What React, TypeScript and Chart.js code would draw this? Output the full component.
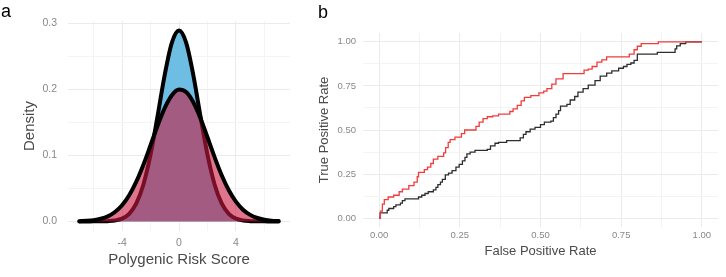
import React, { useEffect, useRef } from "react";
import { Chart, registerables } from "chart.js";

Chart.register(...registerables);

const FONT = '"Liberation Sans", Arial, Helvetica, sans-serif';

// ---------- Panel a: density of polygenic risk score ----------
const prsX = [
  -7, -6.5, -6, -5.5, -5, -4.5, -4, -3.5, -3, -2.5, -2, -1.5, -1, -0.5, 0,
  0.5, 1, 1.5, 2, 2.5, 3, 3.5, 4, 4.5, 5, 5.5, 6, 6.5, 7,
];
const densityNarrow = [
  0, 0, 0.0001, 0.0001, 0.0004, 0.0014, 0.0043, 0.0116, 0.0272, 0.056, 0.1011,
  0.1601, 0.2223, 0.2707, 0.289, 0.2707, 0.2223, 0.1601, 0.1011, 0.056, 0.0272,
  0.0116, 0.0043, 0.0014, 0.0004, 0.0001, 0.0001, 0, 0,
];
const densityWide = [
  0.0004, 0.0009, 0.0019, 0.004, 0.0077, 0.0142, 0.0245, 0.0396, 0.0602, 0.0859,
  0.1153, 0.1452, 0.1719, 0.1912, 0.1998, 0.196, 0.1807, 0.1565, 0.1274, 0.0974,
  0.0699, 0.0471, 0.0299, 0.0178, 0.0099, 0.0052, 0.0026, 0.0012, 0.0005,
];
const prsTicks = [-6, -4, -2, 0, 2, 4, 6];
const prsTickLabels = ["", "-4", "", "0", "", "4", ""];
const densityTicks = [0, 0.05, 0.1, 0.15, 0.2, 0.25, 0.3];
const densityTickLabels = ["0.0", "", "0.1", "", "0.2", "", "0.3"];

// ---------- Panel b: ROC curves ----------
const rocTicks = [0, 0.125, 0.25, 0.375, 0.5, 0.625, 0.75, 0.875, 1];
const rocTickLabels = ["0.00", "", "0.25", "", "0.50", "", "0.75", "", "1.00"];

const redFpr = [
  0, 0.004, 0.01, 0.016, 0.028, 0.045, 0.062, 0.072, 0.092, 0.108,
  0.118, 0.122, 0.14, 0.15, 0.16, 0.168, 0.182, 0.2, 0.206, 0.214,
  0.22, 0.235, 0.255, 0.265, 0.3, 0.31, 0.322, 0.335, 0.352, 0.37,
  0.405, 0.415, 0.428, 0.44, 0.45, 0.47, 0.495, 0.51, 0.52, 0.535,
  0.548, 0.57, 0.635, 0.648, 0.66, 0.675, 0.69, 0.705, 0.775, 0.79,
  0.8, 0.812, 0.865, 1.0,
];
const redTpr = [
  0, 0.04, 0.08, 0.105, 0.12, 0.13, 0.15, 0.165, 0.185, 0.205,
  0.235, 0.26, 0.275, 0.29, 0.31, 0.335, 0.35, 0.37, 0.4, 0.43,
  0.445, 0.46, 0.48, 0.5, 0.52, 0.545, 0.565, 0.575, 0.58, 0.59,
  0.605, 0.62, 0.64, 0.665, 0.685, 0.695, 0.71, 0.72, 0.735, 0.76,
  0.79, 0.82, 0.84, 0.845, 0.86, 0.885, 0.898, 0.915, 0.93, 0.955,
  0.975, 0.99, 1.0, 1.0,
];
const blackFpr = [
  0, 0.003, 0.025, 0.03, 0.045, 0.052, 0.066, 0.072, 0.08, 0.122,
  0.132, 0.142, 0.152, 0.168, 0.176, 0.182, 0.19, 0.196, 0.205, 0.215,
  0.226, 0.238, 0.248, 0.258, 0.266, 0.272, 0.282, 0.297, 0.335, 0.345,
  0.359, 0.37, 0.395, 0.437, 0.447, 0.455, 0.468, 0.483, 0.5, 0.512,
  0.532, 0.54, 0.548, 0.556, 0.562, 0.582, 0.592, 0.606, 0.616, 0.632,
  0.648, 0.669, 0.685, 0.705, 0.721, 0.742, 0.757, 0.768, 0.78, 0.79,
  0.8, 0.862, 0.917, 0.922, 0.933, 0.95, 1.0,
];
const blackTpr = [
  0, 0.03, 0.045, 0.055, 0.065, 0.075, 0.085, 0.1, 0.11, 0.12,
  0.13, 0.14, 0.15, 0.16, 0.175, 0.19, 0.205, 0.22, 0.245, 0.255,
  0.27, 0.29, 0.305, 0.325, 0.345, 0.365, 0.375, 0.385, 0.39, 0.41,
  0.425, 0.43, 0.44, 0.455, 0.475, 0.49, 0.505, 0.515, 0.53, 0.545,
  0.55, 0.57, 0.59, 0.61, 0.635, 0.645, 0.67, 0.69, 0.715, 0.735,
  0.755, 0.78, 0.805, 0.822, 0.835, 0.85, 0.86, 0.872, 0.88, 0.895,
  0.93, 0.94, 0.96, 0.977, 0.99, 1.0, 1.0,
];

const TICK_COLOR = "#888888";
const TITLE_COLOR = "#4a4a4a";
const GRID_MAJOR = "#ebebeb";
const GRID_MINOR = "#f4f4f4";

function toPoints(xs: number[], ys: number[]) {
  return xs.map((x, i) => ({ x, y: ys[i] }));
}

function gridColor(labels: string[]) {
  return (ctx: any) => (labels[ctx.index] ? GRID_MAJOR : GRID_MINOR);
}

function DensityPanel() {
  const ref = useRef<HTMLCanvasElement | null>(null);
  useEffect(() => {
    if (!ref.current) return;
    const chart = new Chart(ref.current, {
      type: "line",
      data: {
        datasets: [
          {
            label: "narrow",
            data: toPoints(prsX, densityNarrow),
            backgroundColor: "rgb(110,190,228)",
            borderColor: "#000000",
            borderWidth: 4,
            fill: "origin",
            pointRadius: 0,
            cubicInterpolationMode: "monotone",
            borderJoinStyle: "round",
            borderCapStyle: "round",
            order: 2,
          },
          {
            label: "wide",
            data: toPoints(prsX, densityWide),
            backgroundColor: "rgba(200,25,65,0.6)",
            borderColor: "#000000",
            borderWidth: 4,
            fill: "origin",
            pointRadius: 0,
            cubicInterpolationMode: "monotone",
            borderJoinStyle: "round",
            borderCapStyle: "round",
            order: 1,
          },
        ],
      },
      options: {
        responsive: false,
        devicePixelRatio: 1,
        animation: false,
        layout: { padding: { left: 0, right: 10, top: 21, bottom: 0 } },
        plugins: { legend: { display: false }, tooltip: { enabled: false } },
        scales: {
          x: {
            type: "linear",
            min: -7.8,
            max: 7.8,
            afterBuildTicks: (axis: any) => {
              axis.ticks = prsTicks.map((v) => ({ value: v }));
            },
            afterFit: (axis: any) => {
              axis.height = 46;
            },
            ticks: {
              autoSkip: false,
              maxRotation: 0,
              minRotation: 0,
              padding: 6,
              color: TICK_COLOR,
              font: { family: FONT, size: 10.5 },
              callback: (_v: any, i: number) => prsTickLabels[i],
            },
            grid: { color: gridColor(prsTickLabels), drawTicks: false, lineWidth: 1 },
            border: { display: false },
            title: {
              display: true,
              text: "Polygenic Risk Score",
              color: TITLE_COLOR,
              font: { family: FONT, size: 15 },
              padding: { top: 0, bottom: 8 },
            },
          },
          y: {
            type: "linear",
            min: -0.0145,
            max: 0.3035,
            afterBuildTicks: (axis: any) => {
              axis.ticks = densityTicks.map((v) => ({ value: v }));
            },
            afterFit: (axis: any) => {
              axis.width = 68;
            },
            ticks: {
              autoSkip: false,
              padding: 11,
              color: TICK_COLOR,
              font: { family: FONT, size: 10.5 },
              callback: (_v: any, i: number) => densityTickLabels[i],
            },
            grid: { color: gridColor(densityTickLabels), drawTicks: false, lineWidth: 1 },
            border: { display: false },
            title: {
              display: true,
              text: "Density",
              color: TITLE_COLOR,
              font: { family: FONT, size: 15 },
              padding: { top: 21, bottom: 0 },
            },
          },
        },
      },
    } as any);
    return () => chart.destroy();
  }, []);
  return (
    <canvas
      ref={ref}
      width={300}
      height={277}
      style={{ position: "absolute", left: 0, top: 0, width: 300, height: 277 }}
    />
  );
}

function RocPanel() {
  const ref = useRef<HTMLCanvasElement | null>(null);
  useEffect(() => {
    if (!ref.current) return;
    const chart = new Chart(ref.current, {
      type: "line",
      data: {
        datasets: [
          {
            label: "red",
            data: toPoints(redFpr, redTpr),
            borderColor: "#f03c3c",
            borderWidth: 1.3,
            pointRadius: 0,
            stepped: "before",
            fill: false,
            order: 1,
          },
          {
            label: "black",
            data: toPoints(blackFpr, blackTpr),
            borderColor: "#2e2e2e",
            borderWidth: 1.3,
            pointRadius: 0,
            stepped: "before",
            fill: false,
            order: 2,
          },
        ],
      },
      options: {
        responsive: false,
        devicePixelRatio: 1,
        animation: false,
        layout: { padding: { left: 0, right: 8, top: 33, bottom: 0 } },
        plugins: { legend: { display: false }, tooltip: { enabled: false } },
        scales: {
          x: {
            type: "linear",
            min: -0.05,
            max: 1.05,
            afterBuildTicks: (axis: any) => {
              axis.ticks = rocTicks.map((v) => ({ value: v }));
            },
            afterFit: (axis: any) => {
              axis.height = 50;
            },
            ticks: {
              autoSkip: false,
              maxRotation: 0,
              minRotation: 0,
              padding: 3,
              color: TICK_COLOR,
              font: { family: FONT, size: 9.5 },
              callback: (_v: any, i: number) => rocTickLabels[i],
            },
            grid: { color: gridColor(rocTickLabels), drawTicks: false, lineWidth: 1 },
            border: { display: false },
            title: {
              display: true,
              text: "False Positive Rate",
              color: TITLE_COLOR,
              font: { family: FONT, size: 13 },
              padding: { top: 0, bottom: 18 },
            },
          },
          y: {
            type: "linear",
            min: -0.05,
            max: 1.05,
            afterBuildTicks: (axis: any) => {
              axis.ticks = rocTicks.map((v) => ({ value: v }));
            },
            afterFit: (axis: any) => {
              axis.width = 63;
            },
            ticks: {
              autoSkip: false,
              padding: 7,
              color: TICK_COLOR,
              font: { family: FONT, size: 9.5 },
              callback: (_v: any, i: number) => rocTickLabels[i],
            },
            grid: { color: gridColor(rocTickLabels), drawTicks: false, lineWidth: 1 },
            border: { display: false },
            title: {
              display: true,
              text: "True Positive Rate",
              color: TITLE_COLOR,
              font: { family: FONT, size: 13 },
              padding: { top: 17, bottom: 0 },
            },
          },
        },
      },
    } as any);
    return () => chart.destroy();
  }, []);
  return (
    <canvas
      ref={ref}
      width={426}
      height={277}
      style={{ position: "absolute", left: 300, top: 0, width: 426, height: 277 }}
    />
  );
}

const panelLabel: React.CSSProperties = {
  position: "absolute",
  fontFamily: FONT,
  fontSize: 18,
  lineHeight: "18px",
  color: "#000",
};

export default function App() {
  return (
    <div
      style={{
        position: "absolute",
        left: 0,
        top: 0,
        width: 726,
        height: 277,
        background: "#ffffff",
        overflow: "hidden",
      }}
    >
      <DensityPanel />
      <RocPanel />
      <div style={{ ...panelLabel, left: 1, top: 2 }}>a</div>
      <div style={{ ...panelLabel, left: 318, top: 3 }}>b</div>
    </div>
  );
}
